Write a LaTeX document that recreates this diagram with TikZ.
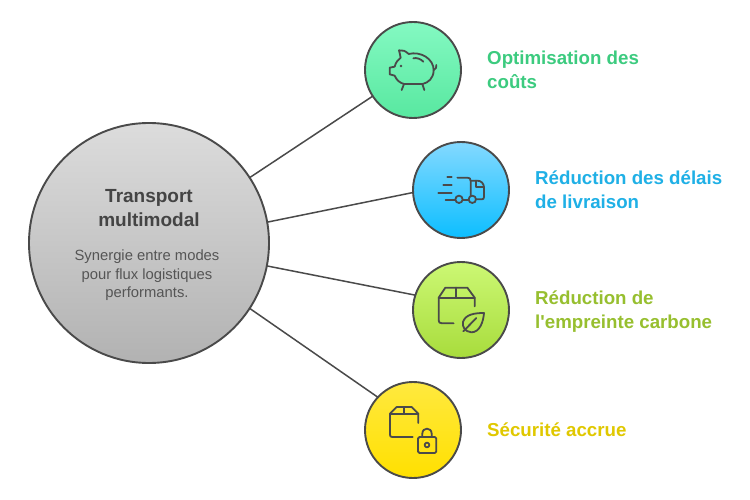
\documentclass[tikz,border=0pt]{standalone}
\usepackage{fontspec}
\setmainfont{Liberation Sans}
\newfontfamily\plainsans{Liberation Sans}
\definecolor{edgec}{HTML}{4A4A4A}
\definecolor{icon}{HTML}{4A4A4A}
\definecolor{tgreen}{HTML}{3CCB7F}
\definecolor{tblue}{HTML}{1FB0E6}
\definecolor{tlime}{HTML}{97BF2F}
\definecolor{tyellow}{HTML}{E0C800}
\definecolor{titlec}{HTML}{444444}
\definecolor{subc}{HTML}{555555}
\definecolor{gA}{HTML}{DCDCDC}\definecolor{gB}{HTML}{B2B2B2}
\definecolor{aA}{HTML}{84F9C2}\definecolor{aB}{HTML}{58E8A0}
\definecolor{bA}{HTML}{84D9FF}\definecolor{bB}{HTML}{0CBEFF}
\definecolor{cA}{HTML}{CCF874}\definecolor{cB}{HTML}{A8DC3C}
\definecolor{dA}{HTML}{FFE93F}\definecolor{dB}{HTML}{FFE000}
\tikzset{
  disc/.style={circle,draw=edgec,line width=1.9pt,inner sep=0pt,outer sep=0pt,minimum size=96pt},
  link/.style={draw=edgec,line width=1.5pt},
  label/.style={anchor=west,align=left,inner sep=0pt,font=\fontsize{18.7}{24}\selectfont\plainsans\bfseries},
  ic/.style={draw=icon,line width=1.8pt,line cap=round,line join=round,fill=none},
  iconscale/.style={x=0.3333pt,y=-0.3333pt}
}
\begin{document}
\begin{tikzpicture}[x=1pt,y=-1pt]
\useasboundingbox (0,0) rectangle (750,500);
\fill[white] (0,0) rectangle (750,500);
\node[disc,minimum size=240pt,top color=gA,bottom color=gB] (big) at (149,243) {};
\node[disc,top color=aA,bottom color=aB] (a) at (413,70) {};
\node[disc,top color=bA,bottom color=bB] (b) at (461,190) {};
\node[disc,top color=cA,bottom color=cB] (c) at (461,310) {};
\node[disc,top color=dA,bottom color=dB] (d) at (413,430) {};
\draw[link] (big.33) -- (a.213.4);
\draw[link] (big.10.9) -- (b.183.6);
\draw[link] (big.-11.4) -- (c.162.6);
\draw[link] (big.-33.8) -- (d.137.5);
\node[align=center,inner sep=0pt,text=titlec,font=\fontsize{19}{24}\selectfont\bfseries] (title) at (149,210) {\strut Transport\\multimodal\strut};
\node[align=center,inner sep=0pt,text=subc,font=\fontsize{14.8}{18.5}\selectfont] (sub) at (147,275.5) {\strut Synergie entre modes\\pour flux logistiques\\performants.\strut};
\node[label,text=tgreen] (la) at (487,72) {\strut Optimisation des\\coûts\strut};
\node[label,text=tblue] (lb) at (535,192) {\strut Réduction des délais\\de livraison\strut};
\node[label,text=tlime] (lc) at (535,312) {\strut Réduction de\\l'empreinte carbone\strut};
\node[label,text=tyellow] (ld) at (487,432) {\strut Sécurité accrue};
% piggy bank
\begin{scope}[shift={(360,15)},iconscale]
\draw[ic] (104,155) .. controls (107,143) and (113,135) .. (122,128) .. controls (120,120) and (119,112) .. (117,106)
 .. controls (127,104) and (137,108) .. (146,117) .. controls (180,108) and (222,130) .. (221,167)
 .. controls (220,190) and (205,203) .. (188,207) -- (132,207) .. controls (120,204) and (109,195) .. (104,182)
 -- (89,178) -- (89,158) -- cycle;
\draw[ic] (221,165) .. controls (228,163) and (230,156) .. (229,150);
\draw[ic] (132,207) -- (125,225);
\draw[ic] (187,207) -- (193,225);
\draw[ic] (160,130) .. controls (170,127) and (182,132) .. (190,140);
\fill[icon] (123,153) circle (4);
\end{scope}
% truck
\begin{scope}[shift={(408,137)},iconscale]
\draw[ic] (118,119) -- (131,119);
\draw[ic] (106,144) -- (131,144);
\draw[ic] (91,168) -- (131,168);
\draw[ic] (113,188) -- (141,188);
\draw[ic] (148,122) -- (178,122) .. controls (185,122) and (188,125) .. (188,132) -- (188,176);
\draw[ic] (188,131) -- (208,131) .. controls (220,131) and (228,140) .. (228,152) -- (228,180) .. controls (228,185) and (226,187) .. (221,187) -- (205,187);
\draw[ic] (205,131) -- (205,150) -- (228,150);
\draw[ic] (153,187) circle (11);
\draw[ic] (193,187) circle (11);
\draw[ic] (165,188) -- (181,188);
\end{scope}
% box + leaf
\begin{scope}[shift={(408,257)},iconscale]
\draw[ic] (137,199) -- (102,199) .. controls (95,199) and (92,196) .. (92,190) -- (92,122) -- (112,92) -- (178,92) -- (200,122) -- (200,148);
\draw[ic] (92,122) -- (200,122);
\draw[ic] (145,92) -- (145,122);
\draw[ic] (228,168) .. controls (200,168) and (172,172) .. (165,195) .. controls (162,208) and (170,224) .. (190,226) .. controls (215,226) and (226,195) .. (228,168) -- cycle;
\draw[ic] (166,223) -- (205,183);
\end{scope}
% box + lock
\begin{scope}[shift={(360,377)},iconscale]
\draw[ic] (158,180) -- (97,180) .. controls (92,180) and (90,178) .. (90,173) -- (90,110) -- (110,90) -- (155,90) -- (175,110) -- (175,138);
\draw[ic] (90,110) -- (175,110);
\draw[ic] (132,90) -- (132,110);
\draw[ic,rounded corners=1.5pt] (174,180) rectangle (229,228);
\draw[ic] (187,180) -- (187,170) .. controls (187,150) and (215,150) .. (215,170) -- (215,180);
\draw[ic] (201,204) circle (7);
\end{scope}
\end{tikzpicture}
\end{document}
